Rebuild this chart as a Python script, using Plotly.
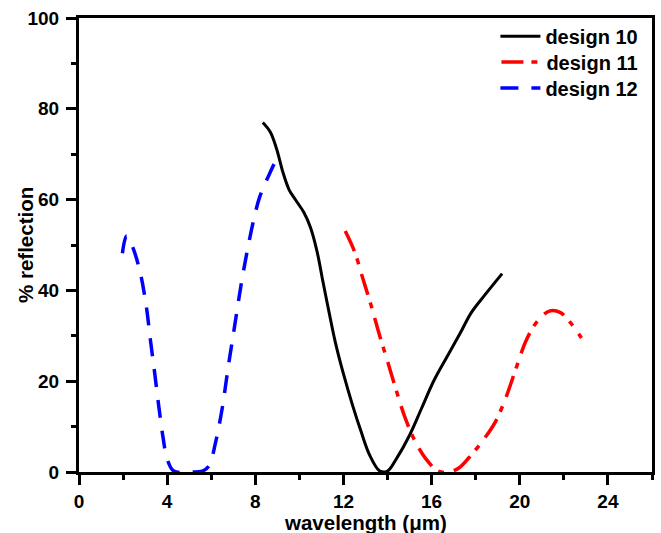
import plotly.graph_objects as go

# design 10 (black solid)
x10 = [8.34, 8.68, 8.97, 9.26, 9.54, 9.83, 10.2, 10.5, 10.8, 11.07, 11.35, 11.64, 12.0, 12.4, 12.8, 13.2, 13.65, 14.0, 14.4, 15.0, 15.55, 16.1, 16.7, 17.3, 17.8, 18.4, 19.2]
y10 = [77.0, 74.9, 71.1, 65.9, 62.1, 59.9, 57.2, 53.9, 48.6, 41.9, 35.1, 28.4, 21.6, 14.9, 8.9, 3.6, 0.2, 0.2, 2.9, 8.1, 14.1, 20.1, 25.4, 30.6, 35.1, 38.9, 43.7]

# design 11 (red dash-dot)
x11 = [12.08, 12.5, 12.88, 13.26, 13.65, 14.03, 14.4, 14.8, 15.27, 15.74, 16.3, 16.8, 17.27, 17.84, 18.4, 18.9, 19.37, 19.85, 20.3, 20.8, 21.37, 21.85, 22.3, 22.8]
y11 = [53.1, 48.6, 42.6, 36.6, 29.9, 23.9, 17.9, 11.9, 6.6, 2.9, 0.2, 0.0, 1.0, 4.0, 7.4, 11.1, 16.4, 23.1, 29.1, 33.2, 35.5, 35.1, 32.9, 29.5]

# design 12 (blue dashed)
x12 = [1.97, 2.16, 2.4, 2.77, 3.05, 3.24, 3.44, 3.63, 3.82, 4.0, 4.3, 5.06, 5.6, 5.9, 6.2, 6.5, 6.77, 7.06, 7.35, 7.63, 7.92, 8.2, 8.59, 8.97, 9.06]
y12 = [48.2, 52.0, 50.0, 44.1, 36.6, 29.1, 21.6, 14.1, 7.4, 2.9, 0.2, 0.0, 0.2, 1.4, 6.6, 14.1, 23.1, 32.1, 41.1, 48.6, 55.4, 60.6, 65.1, 68.5, 68.1]

x_ticks = [0, 4, 8, 12, 16, 20, 24]
y_ticks = [0, 20, 40, 60, 80, 100]

FONT = "Liberation Sans"

fig = go.Figure()
fig.add_trace(go.Scatter(x=x10, y=y10, mode="lines", name="design 10", legend="legend",
                         line=dict(color="black", width=3, shape="spline")))
fig.add_trace(go.Scatter(x=x11, y=y11, mode="lines", name="design 11", legend="legend2",
                         line=dict(color="#ff0000", width=3.5, shape="spline", dash="22px,8px,6px,10px")))
fig.add_trace(go.Scatter(x=x12, y=y12, mode="lines", name="design 12", legend="legend3",
                         line=dict(color="#0000ff", width=3.5, shape="spline", dash="18px,13px")))

axis_common = dict(
    showline=True, linecolor="black", linewidth=3, mirror=True,
    showgrid=False, zeroline=False, automargin=False,
    ticks="outside", ticklen=10, tickwidth=2.5, tickcolor="black",
    tickfont=dict(family=FONT, size=19, color="black", weight="bold"),
)

fig.update_xaxes(range=[0, 26], tickvals=x_ticks, ticktext=[str(v) for v in x_ticks],
                 minor=dict(ticks="outside", dtick=2, tick0=0, ticklen=5, tickwidth=2.5, tickcolor="black"),
                 **axis_common)
fig.update_yaxes(range=[0, 100], tickvals=y_ticks, ticktext=[str(v) for v in y_ticks],
                 minor=dict(ticks="outside", dtick=10, tick0=0, ticklen=5, tickwidth=2.5, tickcolor="black"),
                 ticklabelstandoff=3,
                 **axis_common)

title_font = dict(family=FONT, size=20.5, color="black", weight="bold")
fig.add_annotation(text="wavelength (μm)", xref="paper", yref="paper", x=0.5, y=0,
                   xanchor="center", yanchor="middle", yshift=-50, showarrow=False, font=title_font)
fig.add_annotation(text="% reflection", xref="paper", yref="paper", x=0, y=0.5, textangle=-90,
                   xanchor="center", yanchor="middle", xshift=-54, showarrow=False, font=title_font)

leg_font = dict(family=FONT, size=20, color="black", weight="bold")
leg_common = dict(x=0.985, xanchor="right", yanchor="middle", bgcolor="rgba(0,0,0,0)",
                  itemwidth=40, font=leg_font)

fig.update_layout(
    width=661, height=533,
    margin=dict(l=79, r=9, t=18, b=61),
    paper_bgcolor="white", plot_bgcolor="white",
    showlegend=True,
    legend=dict(y=0.96, **leg_common),
    legend2=dict(y=0.903, **leg_common),
    legend3=dict(y=0.846, **leg_common),
)

fig.write_html("out.html")
